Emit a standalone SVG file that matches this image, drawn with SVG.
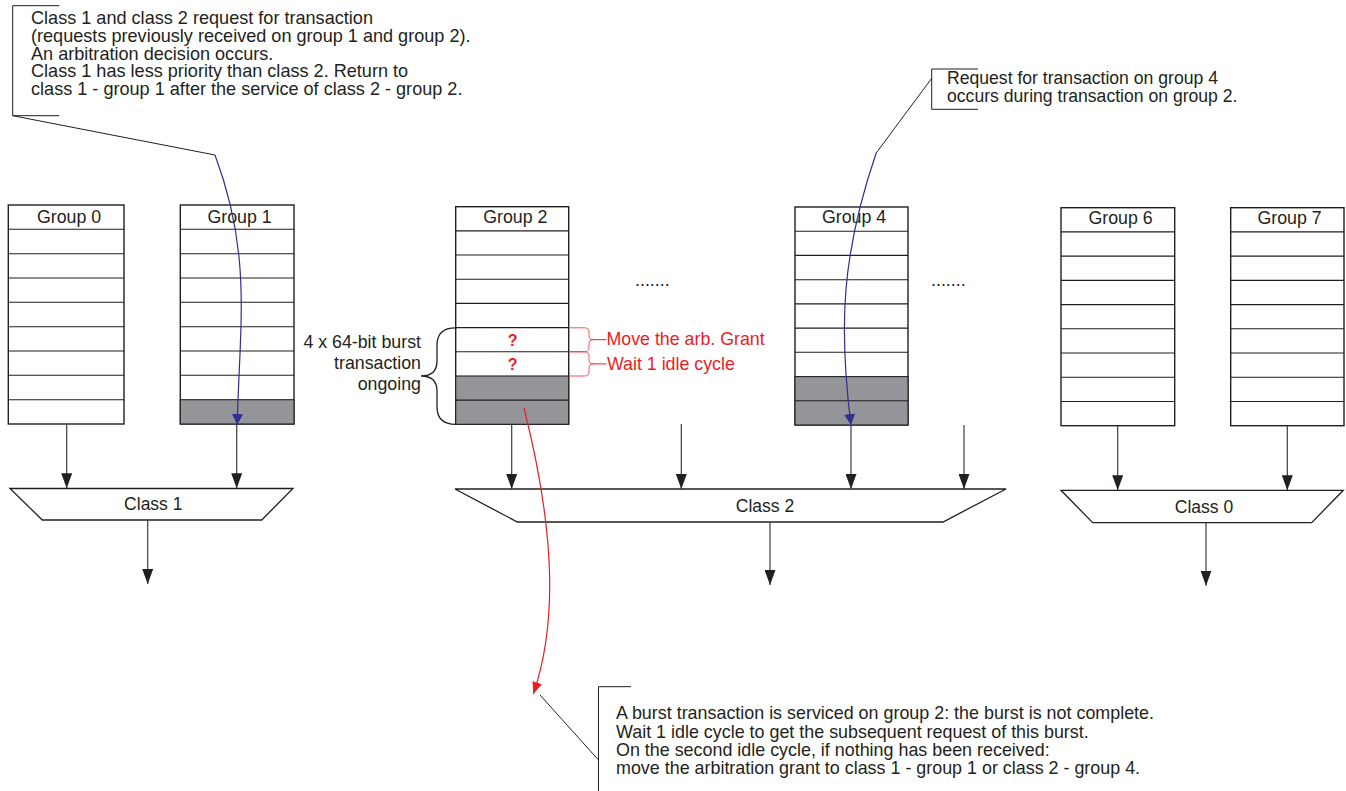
<svg xmlns="http://www.w3.org/2000/svg" width="1346" height="791" viewBox="0 0 1346 791">
<defs>
<style>
text{font-family:"Liberation Sans",Arial,sans-serif;fill:#231f20}
.t{font-size:17.8px}
.box{fill:#fff;stroke:#231f20;stroke-width:1.4}
.row{stroke:#231f20;stroke-width:1.1;fill:none}
.gray{fill:#939598;stroke:#231f20;stroke-width:1.1}
.hdr{font-size:17.8px;text-anchor:middle}
.trap{fill:#fff;stroke:#231f20;stroke-width:1.3}
.stem{stroke:#3c3c3c;stroke-width:1.2;fill:none}
.lead{stroke:#231f20;stroke-width:1;fill:none}
.red{fill:#ed1c24}
.redl{stroke:#ed1c24;stroke-width:1;fill:none}
</style>
<marker id="ab" viewBox="0 0 15 11" refX="15" refY="5.5" markerWidth="15" markerHeight="11" markerUnits="userSpaceOnUse" orient="auto"><path d="M0,0L15,5.5L0,11z" fill="#231f20"/></marker>
<marker id="au" viewBox="0 0 11 11" refX="11" refY="5.5" markerWidth="11" markerHeight="11" markerUnits="userSpaceOnUse" orient="auto"><path d="M0,0L11,5.5L0,11z" fill="#2e3192"/></marker>
<marker id="ar" viewBox="0 0 12 10" refX="12" refY="5" markerWidth="12" markerHeight="10" markerUnits="userSpaceOnUse" orient="auto"><path d="M0,0L12,5L0,10z" fill="#ed1c24"/></marker>
</defs>
<rect width="1346" height="791" fill="#fff"/>

<g id="note-top-left" style="font-size:18.1px">
<path class="lead" d="M59.3,5.7H12.7V115.7H59.3"/>
<text x="31" y="24.3">Class 1 and class 2 request for transaction</text>
<text x="31" y="42">(requests previously received on group 1 and group 2).</text>
<text x="31" y="59.7">An arbitration decision occurs.</text>
<text x="31" y="77.4">Class 1 has less priority than class 2. Return to</text>
<text x="31" y="95">class 1 - group 1 after the service of class 2 - group 2.</text>
</g>

<g id="note-top-right" style="font-size:17.6px">
<path class="lead" d="M978,69H931.7V109.3H978"/>
<text x="947" y="84.3">Request for transaction on group 4</text>
<text x="947" y="101.7">occurs during transaction on group 2.</text>
</g>

<g id="note-bottom" style="font-size:17.9px">
<path class="lead" d="M631,686.7H598.5V791"/>
<text x="616" y="719.3">A burst transaction is serviced on group 2: the burst is not complete.</text>
<text x="616" y="737.7">Wait 1 idle cycle to get the subsequent request of this burst.</text>
<text x="616" y="756">On the second idle cycle, if nothing has been received:</text>
<text x="616" y="774.3">move the arbitration grant to class 1 - group 1 or class 2 - group 4.</text>
</g>

<g id="group0">
<rect class="box" x="8.3" y="205" width="115.7" height="219"/>
<path class="row" d="M8.3,229.3H124M8.3,253.7H124M8.3,278H124M8.3,302.3H124M8.3,326.7H124M8.3,351H124M8.3,375.3H124M8.3,399.7H124"/>
<text class="hdr" x="69" y="222.5">Group 0</text>
</g>

<g id="group1">
<rect class="box" x="180.3" y="205" width="113.7" height="219"/>
<rect class="gray" x="180.3" y="399.7" width="113.7" height="24.3"/>
<path class="row" d="M180.3,229.3H294M180.3,253.7H294M180.3,278H294M180.3,302.3H294M180.3,326.7H294M180.3,351H294M180.3,375.3H294"/>
<text class="hdr" x="239.5" y="222.5">Group 1</text>
</g>

<g id="group2">
<rect class="box" x="455.7" y="206.7" width="113" height="217.6"/>
<rect class="gray" x="455.7" y="376" width="113" height="48.3"/>
<path class="row" d="M455.7,230.9H568.7M455.7,255H568.7M455.7,279.2H568.7M455.7,303.4H568.7M455.7,327.6H568.7M455.7,351.8H568.7M455.7,400.1H568.7"/>
<text class="hdr" x="515.3" y="223.3">Group 2</text>
<text x="512.7" y="345.7" style="font-size:16px;font-weight:bold;text-anchor:middle;fill:#ed1c24">?</text>
<text x="512.7" y="370.3" style="font-size:16px;font-weight:bold;text-anchor:middle;fill:#ed1c24">?</text>
</g>

<g id="group4">
<rect class="box" x="795" y="207" width="113" height="218"/>
<rect class="gray" x="795" y="376.6" width="113" height="48.4"/>
<path class="row" d="M795,231.2H908M795,255.4H908M795,279.7H908M795,303.9H908M795,328.1H908M795,352.3H908M795,400.8H908"/>
<text class="hdr" x="854" y="223.3">Group 4</text>
</g>

<g id="group6">
<rect class="box" x="1061" y="207.7" width="113.7" height="218"/>
<path class="row" d="M1061,231.9H1174.7M1061,256.1H1174.7M1061,280.4H1174.7M1061,304.6H1174.7M1061,328.8H1174.7M1061,353H1174.7M1061,377.3H1174.7M1061,401.5H1174.7"/>
<text class="hdr" x="1120.5" y="224">Group 6</text>
</g>

<g id="group7">
<rect class="box" x="1230.7" y="207.7" width="113.3" height="218"/>
<path class="row" d="M1230.7,231.9H1344M1230.7,256.1H1344M1230.7,280.4H1344M1230.7,304.6H1344M1230.7,328.8H1344M1230.7,353H1344M1230.7,377.3H1344M1230.7,401.5H1344"/>
<text class="hdr" x="1289.5" y="224">Group 7</text>
</g>

<g id="ellipsis">
<text class="t" x="635" y="286">.......</text>
<text class="t" x="931" y="286">.......</text>
</g>

<g id="burst-label">
<path class="lead" d="M455.7,327.8Q437,327.8 437,345V361Q437,376 421,376Q437,376 437,391V407Q437,424.3 455.7,424.3" style="stroke-width:1.3"/>
<text class="t" x="421" y="348" text-anchor="end">4 x 64-bit burst</text>
<text class="t" x="421" y="369" text-anchor="end">transaction</text>
<text class="t" x="421" y="389.5" text-anchor="end">ongoing</text>
</g>

<g id="red-labels">
<path class="redl" d="M568.7,327.8H584.5Q589,327.8 589,332V335.5Q589,339.7 593,339.7Q589,339.7 589,344V347.6Q589,351.8 584.5,351.8H568.7" style="stroke-opacity:0.75"/>
<path class="redl" d="M568.7,351.8H584.5Q589,351.8 589,356V359.7Q589,363.9 593,363.9Q589,363.9 589,368V371.8Q589,376 584.5,376H568.7" style="stroke-opacity:0.75"/>
<path class="redl" d="M593,339.7H606.5M593,363.9H606.5"/>
<text class="t red" x="606.5" y="345.3">Move the arb. Grant</text>
<text class="t red" x="607" y="370">Wait 1 idle cycle</text>
</g>

<g id="class1">
<path class="trap" d="M10,488.5H293L261.7,520H42.3Z"/>
<text class="hdr" x="153.3" y="510" style="font-size:17.5px">Class 1</text>
</g>

<g id="class2">
<path class="trap" d="M455,489H1006L943,522H517.3Z"/>
<text class="hdr" x="765" y="511.7" style="font-size:17.5px">Class 2</text>
</g>

<g id="class0">
<path class="trap" d="M1061,490.3H1343.3L1311.7,522.7H1092.7Z"/>
<text class="hdr" x="1204" y="512.7" style="font-size:17.5px">Class 0</text>
</g>

<g id="connectors">
<path class="stem" marker-end="url(#ab)" d="M66.7,424V488.3"/>
<path class="stem" marker-end="url(#ab)" d="M236.7,424V488.3"/>
<path class="stem" marker-end="url(#ab)" d="M147.7,520V584"/>
<path class="stem" marker-end="url(#ab)" d="M511.7,424.3V489"/>
<path class="stem" marker-end="url(#ab)" d="M681.3,424V489"/>
<path class="stem" marker-end="url(#ab)" d="M851,425V489"/>
<path class="stem" marker-end="url(#ab)" d="M964,425V489"/>
<path class="stem" marker-end="url(#ab)" d="M770,522V585"/>
<path class="stem" marker-end="url(#ab)" d="M1117.7,425.7V490.3"/>
<path class="stem" marker-end="url(#ab)" d="M1287.3,425.7V490.3"/>
<path class="stem" marker-end="url(#ab)" d="M1206,522.7V585.7"/>
<path class="lead" d="M12.7,115.7L215,155"/>
<path d="M215,155C252.5,255 239.5,325 237.2,425" fill="none" stroke="#2e3192" stroke-width="1.2" marker-end="url(#au)"/>
<path class="lead" d="M931.7,78.3L876.2,153"/>
<path d="M876.2,153C842,253 838.3,325 851,425" fill="none" stroke="#2e3192" stroke-width="1.2" marker-end="url(#au)"/>
<path d="M524,408C554.6,529.4 558.1,622.3 533.3,694" fill="none" stroke="#ed1c24" stroke-width="1.2" marker-end="url(#ar)"/>
<path class="lead" d="M598.5,760L540,695"/>
</g>
</svg>
